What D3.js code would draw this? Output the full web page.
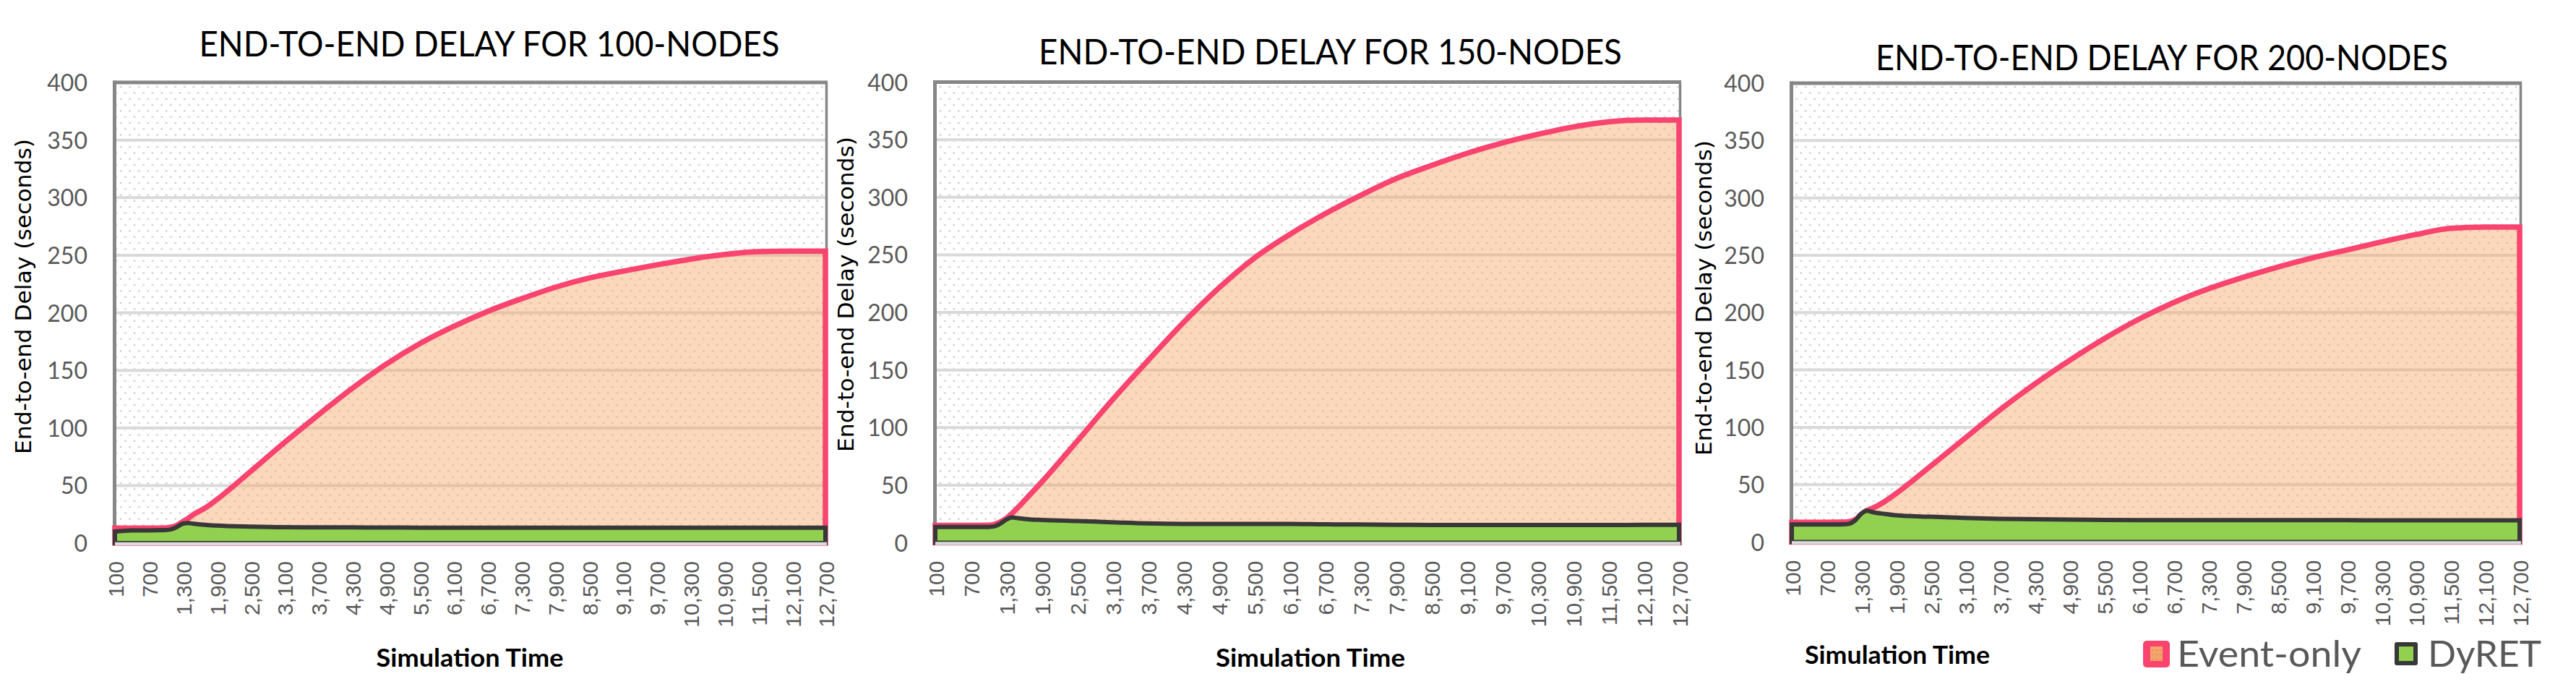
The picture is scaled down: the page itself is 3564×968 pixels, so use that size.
<!DOCTYPE html>
<html><head><meta charset="utf-8">
<script src="https://cdn.jsdelivr.net/npm/d3@7"></script>
<style>html,body{margin:0;padding:0;background:#fff;} svg{display:block;}</style>
</head><body>
<script>
// ---------------- DATA ----------------
const times = [100, 400, 700, 1000, 1100, 1200, 1300, 1400, 1500, 1700, 1900, 2500, 3100, 3700, 4300, 4900, 5500, 6100, 6700, 7300, 7900, 8500, 9100, 9700, 10300, 10900, 11500, 12100, 12700];

const eventOnly100 = [13, 13, 13, 13.2, 13.8, 15.5, 18.5, 21.5, 25, 30.5, 37.5, 62, 87, 111, 134, 155, 173, 188, 201, 212, 222, 230, 236, 241.5, 246.5, 250.5, 253, 253.5, 253.5];
const dyret100     = [10, 11, 11, 11.3, 12, 14, 16.8, 17.4, 16.8, 15.8, 15.2, 14.3, 13.8, 13.7, 13.6, 13.5, 13.4, 13.3, 13.3, 13.3, 13.3, 13.3, 13.3, 13.3, 13.3, 13.3, 13.3, 13.4, 13.4];

const eventOnly150 = [15, 15, 15, 15.3, 16, 18, 21, 25.5, 30.5, 41.5, 52.5, 88, 124, 158, 191, 221, 247, 267.5, 285.5, 301.5, 316, 327.5, 338, 347, 354.5, 361, 365.5, 367, 367];
const dyret150     = [13.6, 13.6, 13.6, 13.7, 14.2, 16.5, 20, 22, 21.3, 20.3, 19.8, 18.8, 17.8, 16.8, 16.4, 16.4, 16.4, 16.4, 16, 15.8, 15.6, 15.4, 15.4, 15.4, 15.4, 15.4, 15.4, 15.5, 15.5];

const eventOnly200 = [17.2, 17.2, 17.2, 17.4, 17.8, 19.5, 24, 27.5, 29.5, 35, 42, 66, 90.5, 115, 137.5, 158, 177, 194, 208.5, 220.5, 230.5, 239.5, 247.5, 254.5, 261.5, 268, 273.5, 274.5, 274.5];
const dyret200     = [15.3, 15.3, 15.3, 15.4, 16, 19, 24.5, 27.3, 26, 24.5, 23.3, 22, 21, 20.2, 19.8, 19.5, 19.3, 19.1, 19, 19, 19, 19, 19, 19, 18.9, 18.9, 18.9, 18.9, 18.9];

const chartTitles = ["END-TO-END DELAY FOR 100-NODES", "END-TO-END DELAY FOR 150-NODES", "END-TO-END DELAY FOR 200-NODES"];
const xTickValues = [100, 700, 1300, 1900, 2500, 3100, 3700, 4300, 4900, 5500, 6100, 6700, 7300, 7900, 8500, 9100, 9700, 10300, 10900, 11500, 12100, 12700];
const yTickValues = [0, 50, 100, 150, 200, 250, 300, 350, 400];
const seriesNames = ["Event-only", "DyRET"];
const xAxisTitle = "Simulation Time";
const yAxisTitle = "End-to-end Delay (seconds)";

const panelsData = [
  {title: chartTitles[0], ev: eventOnly100, dy: dyret100},
  {title: chartTitles[1], ev: eventOnly150, dy: dyret150},
  {title: chartTitles[2], ev: eventOnly200, dy: dyret200}
];

// ---------------- LAYOUT ----------------
const W = 3564, H = 968;
const layouts = [
  {left:159, right:1142, top:114, bottom:751, titleX:677, titleY:78, titleW:803, yTitleX:42.7, yTitleY:410, xTitleX:650, xTitleY:922, xTitleW:259},
  {left:1294, right:2323, top:113.5, bottom:750.5, titleX:1840.5, titleY:89, titleW:807, yTitleX:1181.3, yTitleY:407, xTitleX:1813, xTitleY:922, xTitleW:262},
  {left:2479, right:3486, top:115, bottom:749.5, titleX:2991, titleY:97, titleW:792, yTitleX:2367.5, yTitleY:412, xTitleX:2625, xTitleY:918, xTitleW:256}
];

const C = {
  grid:"#d9d9d9", border:"#868686", evFill:"#f7a86a", evStroke:"#f8446f",
  dyFill:"#92d050", dyStroke:"#383838", label:"#595959", text:"#000"
};

const svg = d3.select("body").append("svg").attr("width", W).attr("height", H);
svg.append("rect").attr("width", W).attr("height", H).attr("fill", "#fff");

const defs = svg.append("defs");
const bg = defs.append("pattern").attr("id","bgdots").attr("patternUnits","userSpaceOnUse")
  .attr("width",12.6).attr("height",16.6);
bg.append("rect").attr("width",12.6).attr("height",16.6).attr("fill","#fff");
bg.append("rect").attr("x",2).attr("y",3).attr("width",2.6).attr("height",2).attr("fill","#c8c8c8");
bg.append("rect").attr("x",8.3).attr("y",11.3).attr("width",2.6).attr("height",2).attr("fill","#c8c8c8");

const lg = defs.append("pattern").attr("id","legdots").attr("patternUnits","userSpaceOnUse")
  .attr("width",5.5).attr("height",6.4);
lg.append("rect").attr("width",5.5).attr("height",6.4).attr("fill","#f3a56b");
lg.append("rect").attr("x",1.8).attr("y",2.2).attr("width",2).attr("height",2).attr("fill","#d98a52");

panelsData.forEach((pd, i) => {
  const L = layouts[i];
  const g = svg.append("g");
  const x = d3.scaleLinear().domain([100, 12700]).range([L.left, L.right]);
  const y = d3.scaleLinear().domain([0, 400]).range([L.bottom, L.top]);

  // plot background
  g.append("rect").attr("x", L.left).attr("y", L.top).attr("width", L.right - L.left).attr("height", L.bottom - L.top)
    .attr("fill", "url(#bgdots)");

  // gridlines
  g.selectAll(".grid").data(yTickValues.filter(v => v > 0 && v < 400)).join("line")
    .attr("x1", L.left).attr("x2", L.right).attr("y1", d => y(d)).attr("y2", d => y(d))
    .attr("stroke", C.grid).attr("stroke-width", 4);

  // border: top and right
  g.append("line").attr("x1", L.left - 2.5).attr("x2", L.right + 3).attr("y1", L.top).attr("y2", L.top)
    .attr("stroke", C.border).attr("stroke-width", 5);
  g.append("line").attr("x1", L.right + 1.5).attr("x2", L.right + 1.5).attr("y1", L.top).attr("y2", L.bottom)
    .attr("stroke", C.border).attr("stroke-width", 3.5);
  // left axis line
  g.append("line").attr("x1", L.left - 0.5).attr("x2", L.left - 0.5).attr("y1", L.top - 2.5).attr("y2", L.bottom + 2.5)
    .attr("stroke", C.border).attr("stroke-width", 5);

  const area = d3.area().x((d, j) => x(times[j])).y0(y(0)).y1(d => y(d)).curve(d3.curveMonotoneX);

  // Event-only area
  g.append("path").attr("d", area(pd.ev)).attr("fill", C.evFill).attr("fill-opacity", 0.45);
  g.append("path").attr("d", area(pd.ev)).attr("fill", "none").attr("stroke", C.evStroke)
    .attr("stroke-width", 7.5).attr("stroke-linejoin", "miter");

  // DyRET area
  g.append("path").attr("d", area(pd.dy)).attr("fill", C.dyFill).attr("stroke", C.dyStroke)
    .attr("stroke-width", 6).attr("stroke-linejoin", "miter");

  // bottom axis line
  g.append("line").attr("x1", L.left).attr("x2", L.right + 2).attr("y1", L.bottom + 1).attr("y2", L.bottom + 1)
    .attr("stroke", C.grid).attr("stroke-width", 4.5);

  // y axis labels
  const ya = g.append("g").attr("transform", `translate(${L.left - 38},0)`)
    .call(d3.axisLeft(y).tickValues(yTickValues).tickSize(0).tickPadding(0));
  ya.select(".domain").remove();
  ya.selectAll("text").attr("font-family", "Lato, 'Open Sans', sans-serif").attr("font-size", 32)
    .attr("fill", C.label).attr("dy", "0.36em").attr("x", 0);

  // x axis labels
  const xa = g.append("g").attr("transform", `translate(0,${L.bottom + 25})`)
    .call(d3.axisBottom(x).tickValues(xTickValues).tickFormat(d3.format(",")).tickSize(0).tickPadding(0));
  xa.select(".domain").remove();
  xa.selectAll("text").attr("font-family", "'Liberation Sans', Arial, sans-serif").attr("font-size", 30)
    .attr("fill", C.label).attr("transform", "rotate(-90)").attr("text-anchor", "end")
    .attr("x", 0).attr("y", 1).attr("dy", "0.36em");

  // chart title
  g.append("text").attr("x", L.titleX).attr("y", L.titleY).attr("text-anchor", "middle")
    .attr("font-family", "Lato, sans-serif").attr("font-size", 48.6).attr("fill", C.text)
    .attr("textLength", L.titleW).attr("lengthAdjust", "spacingAndGlyphs").text(pd.title);

  // y axis title
  g.append("text").attr("transform", `translate(${L.yTitleX},${L.yTitleY}) rotate(-90)`).attr("text-anchor", "middle")
    .attr("font-family", "'DejaVu Sans', sans-serif").attr("font-size", 31).attr("fill", C.text)
    .attr("textLength", 436).attr("lengthAdjust", "spacingAndGlyphs").text(yAxisTitle);

  // x axis title
  g.append("text").attr("x", L.xTitleX).attr("y", L.xTitleY).attr("text-anchor", "middle")
    .attr("font-family", "Lato, sans-serif").attr("font-weight", "bold").attr("font-size", 35).attr("fill", C.text)
    .attr("textLength", L.xTitleW).attr("lengthAdjust", "spacingAndGlyphs").text(xAxisTitle);
});

// ---------------- LEGEND ----------------
const leg = svg.append("g");
leg.append("rect").attr("x", 2965).attr("y", 886).attr("width", 37).attr("height", 37).attr("rx", 5)
  .attr("fill", C.evStroke);
leg.append("rect").attr("x", 2975).attr("y", 894).attr("width", 17).attr("height", 20).attr("fill", "url(#legdots)");
leg.append("text").attr("x", 3012).attr("y", 921.7).attr("font-family", "Lato, sans-serif").attr("font-size", 50)
  .attr("fill", C.label).attr("textLength", 255).attr("lengthAdjust", "spacingAndGlyphs").text(seriesNames[0]);
leg.append("rect").attr("x", 3313).attr("y", 888).attr("width", 32).attr("height", 32).attr("rx", 3)
  .attr("fill", C.dyStroke);
leg.append("rect").attr("x", 3319).attr("y", 894).attr("width", 20).attr("height", 20).attr("fill", C.dyFill);
leg.append("text").attr("x", 3359).attr("y", 921.7).attr("font-family", "Lato, sans-serif").attr("font-size", 50)
  .attr("fill", C.label).attr("textLength", 157).attr("lengthAdjust", "spacingAndGlyphs").text(seriesNames[1]);
</script>
</body></html>
